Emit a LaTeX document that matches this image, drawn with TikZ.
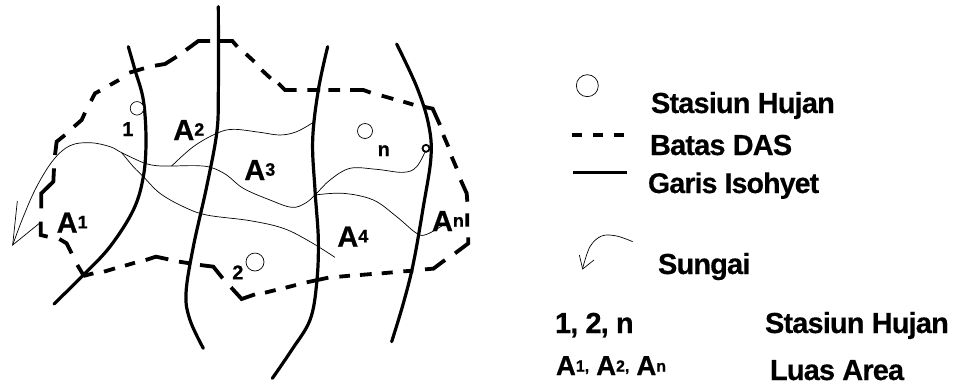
\documentclass[tikz,border=0pt]{standalone}
\usepackage{fontspec}
\setmainfont{Liberation Sans}
\newfontfamily\tightfont{Liberation Sans Bold}[LetterSpace=-3,FakeBold=0.4]
\newfontfamily\labfont{Liberation Sans Bold}[FakeBold=0.6]
\newcommand{\Lbl}[2]{{\fontsize{#1}{#1}\tightfont #2}}
\newcommand{\Num}[2]{{\fontsize{#1}{#1}\labfont #2}}
\newcommand{\Asup}[3]{{\fontsize{#1}{#1}\labfont A\raisebox{4.3pt}{\fontsize{#2}{#2}\labfont #3}}}
\newcommand{\Ainl}[1]{{\fontsize{27.5}{27.5}\labfont A}{\fontsize{16}{16}\labfont\raisebox{3.5pt}{#1}}}
\tikzset{
 river/.style={line width=3.2pt,line cap=round},
 isoh/.style={line width=.7pt},
 bound/.style={line width=3.8pt,line join=miter},
 stn/.style={line width=.7pt},
 txt/.style={anchor=base west,inner sep=0pt,outer sep=0pt},
}
\begin{document}
\begin{tikzpicture}[x=.33333pt,y=-.33333pt]
\useasboundingbox (0,0) rectangle (2862,1155);
% rivers
\draw[river] plot[smooth,tension=.6] coordinates {(385,140)(405,210)(430,300)(438,420)(430,530)(400,630)(330,740)(250,825)(162,912)};
\draw[river] plot[smooth,tension=.6] coordinates {(655,20)(655,280)(650,400)(620,560)(580,740)(558,880)(570,960)(610,1045)};
\draw[river] plot[smooth,tension=.6] coordinates {(983,140)(955,270)(938,420)(945,570)(955,720)(950,850)(930,960)(875,1050)(817,1135)};
\draw[river] plot[smooth,tension=.6] coordinates {(1190,132)(1250,260)(1285,370)(1293,470)(1270,620)(1240,790)(1210,910)(1175,1025)};
% boundary
\draw[bound] (250,825)--(232,795) (215,760)--(200,730)--(178,717) (143,710)--(122,705)--(122,665)
 (124,625)--(124,580)--(160,545)--(162,505) (165,465)--(170,425)--(195,405) (222,380)--(245,360)--(255,338)
 (273,303)--(285,280)--(300,272) (330,255)--(357,240) (388,218)--(432,205) (465,197)--(495,192)--(530,170)
 (558,150)--(595,123)--(630,123) (660,123)--(697,123)--(712,140) (738,162)--(763,185)
 (785,210)--(812,235) (835,250)--(855,270)--(890,270) (922,270)--(960,270) (985,270)--(1020,270)
 (1050,270)--(1090,270)--(1112,278) (1145,287)--(1180,297) (1210,305)--(1240,314) (1270,320)--(1298,326)--(1320,375)
 (1330,405)--(1345,440) (1355,470)--(1370,505) (1382,540)--(1400,580)--(1402,605) (1402,640)--(1402,680)
 (1405,712)--(1405,730)--(1365,760) (1335,780)--(1300,806)--(1275,808) (1240,812)--(1210,814) (1178,817)--(1145,820)
 (1115,822)--(1080,825) (1050,827)--(1018,830) (985,833)--(920,847) (888,855)--(857,863) (827,870)--(795,878)
 (765,883)--(725,897)--(693,862) (668,835)--(640,800)--(600,795) (570,790)--(537,785)
 (505,778)--(468,770)--(437,780) (405,788)--(375,797) (345,805)--(312,815) (280,820)--(250,828);
% isohyets and sungai
\draw[isoh] plot[smooth,tension=.6] coordinates {(38,735)(70,650)(110,560)(160,480)(210,437)(270,428)(330,440)(365,458)(430,488)(470,497)(515,498)(590,497)(635,503)(680,525)(730,565)(810,600)(875,622)(915,610)(945,585)(990,540)(1050,505)(1130,508)(1210,517)(1250,500)(1280,445)};
\draw[isoh] (52,603)--(38,735)--(118,670);
\draw[isoh] plot[smooth,tension=.6] coordinates {(365,458)(400,500)(430,530)(480,580)(550,620)(620,645)(750,662)(850,685)(930,725)(1005,772)};
\draw[isoh] plot[smooth,tension=.6] coordinates {(515,498)(580,440)(650,400)(700,388)(780,397)(840,405)(890,395)(940,367)};
\draw[isoh] plot[smooth,tension=.6] coordinates {(945,585)(1030,580)(1120,600)(1190,650)(1250,700)(1280,703)(1330,675)};
% stations
\node[draw,circle,stn,minimum size=13.5pt,inner sep=0pt,fill=white] (s1) at (411,325) {};
\node[draw,circle,stn,minimum size=18pt,inner sep=0pt] (s2) at (765,786) {};
\node[draw,circle,stn,minimum size=15pt,inner sep=0pt] (sn) at (1095,393) {};
\node[draw,circle,line width=1.8pt,minimum size=7pt,inner sep=0pt,fill=white] (so) at (1278,445) {};
\node[txt] (l1) at (367,408) {\Num{20}{1}};
\node[txt] (l2) at (697,838) {\Num{20}{2}};
\node[txt] (ln) at (1133,468) {\Num{20}{n}};
% area labels
\node[txt] (a1) at (170,698) {\Asup{29}{18}{1}};
\node[txt] (a2) at (520,420) {\Asup{29}{18}{2}};
\node[txt] (a3) at (733,540) {\Asup{29}{18}{3}};
\node[txt] (a4) at (1012,740) {\Asup{29}{18}{4}};
\node[txt] (an) at (1296,693) {\Asup{29}{18}{n}};
% legend
\node[draw,circle,stn,minimum size=22pt,inner sep=0pt] (lc) at (1762,257) {};
\node[txt] (t1) at (1953,339) {\Lbl{29}{Stasiun Hujan}};
\draw[line width=4pt] (1715,404)--(1745,404) (1778,404)--(1810,404) (1842,404)--(1872,404);
\node[txt] (t2) at (1950,465) {\Lbl{29}{Batas DAS}};
\draw[line width=2.6pt] (1719,517)--(1882,517);
\node[txt] (t3) at (1944,579) {\Lbl{28.5}{Garis Isohyet}};
\draw[isoh] plot[smooth,tension=.6] coordinates {(1898,725)(1850,708)(1805,708)(1770,740)(1748,805)};
\draw[isoh] (1738,765)--(1748,807)--(1782,780);
\node[txt] (t4) at (1974,822) {\Lbl{29}{Sungai}};
\node[txt] (t5) at (1665,999) {\Lbl{29}{1, 2, n}};
\node[txt] (t6) at (2295,999) {\Lbl{29}{Stasiun Hujan}};
\node[txt] (t7) at (1668,1125) {\Ainl{1,}\hspace{7pt}\Ainl{2,}\hspace{7pt}\Ainl{n}};
\node[txt] (t8) at (2310,1140) {\Lbl{29}{Luas Area}};
\end{tikzpicture}
\end{document}
